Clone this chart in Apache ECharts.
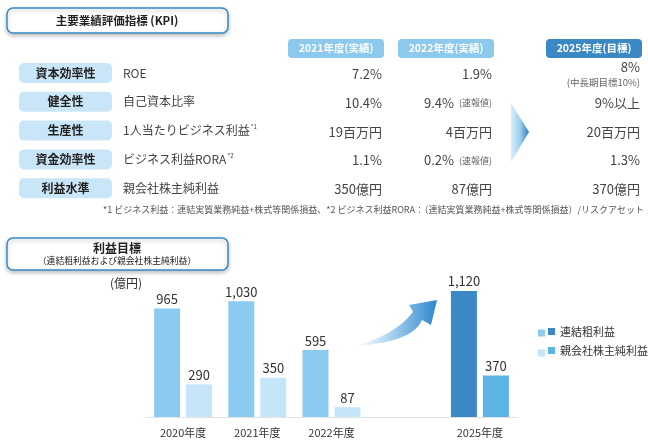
<!DOCTYPE html>
<html>
<head>
<meta charset="utf-8">
<script src="https://cdn.jsdelivr.net/npm/echarts@6/dist/echarts.min.js"></script>
<style>
  html, body { margin: 0; padding: 0; background: #fff; }
  #main { width: 648px; height: 445px; }
</style>
</head>
<body>
<div id="main"></div>
<script>
// bar chart data
var years = ['2020年度', '2021年度', '2022年度', '', '2025年度'];
var grossProfit = [965, 1030, 595, null, 1120];
var netIncome = [290, 350, 87, null, 370];
var seriesNames = ['連結粗利益', '親会社株主純利益'];
var unitLabel = '(億円)';

// KPI table data
var kpiColumns = ['2021年度(実績)', '2022年度(実績)', '2025年度(目標)'];
var kpiCategories = ['資本効率性', '健全性', '生産性', '資金効率性', '利益水準'];
var kpiMetrics = ['ROE', '自己資本比率', '1人当たりビジネス利益', 'ビジネス利益RORA', '親会社株主純利益'];
var kpiMetricNotes = ['', '', '*1', '*2', ''];
var kpi2021 = ['7.2%', '10.4%', '19百万円', '1.1%', '350億円'];
var kpi2022 = ['1.9%', '9.4%', '4百万円', '0.2%', '87億円'];
var kpi2022Notes = ['', '(速報値)', '', '(速報値)', ''];
var kpi2025 = ['8%', '9%以上', '20百万円', '1.3%', '370億円'];
var kpi2025Notes = ['(中長期目標10%)', '', '', '', ''];
var footnote = '*1 ビジネス利益：連結実質業務純益+株式等関係損益、*2 ビジネス利益RORA：（連結実質業務純益+株式等関係損益）/リスクアセット';

var FONT = '"Noto Sans CJK JP", "Noto Sans", sans-serif';
var colors = {
  gross: '#8ACBEF', grossTarget: '#3A89C4',
  net: '#C5E5F8', netTarget: '#5BB4E5',
  header: '#8DC9EC', headerTarget: '#3A89C4',
  rowLabel: '#C9E6F8', border: '#3A89C4'
};

function txt(x, y, text, st) {
  return {
    type: 'text', x: x, y: y, silent: true,
    style: Object.assign({
      text: text, fill: '#333', fontSize: 12, fontFamily: FONT,
      align: 'left', verticalAlign: 'middle'
    }, st || {})
  };
}
function box(x, y, w, h, r, st) {
  return {
    type: 'rect', silent: true,
    shape: { x: x, y: y, width: w, height: h, r: r },
    style: st
  };
}
function qbez(p0, c, p1, n) {
  var pts = [];
  for (var i = 0; i <= n; i++) {
    var t = i / n, a = (1 - t) * (1 - t), b = 2 * (1 - t) * t, d = t * t;
    pts.push([a * p0[0] + b * c[0] + d * p1[0], a * p0[1] + b * c[1] + d * p1[1]]);
  }
  return pts;
}

var g = [];

// title boxes
var titleStyle = { fill: '#fff', stroke: colors.border, lineWidth: 1.5,
  shadowBlur: 4, shadowColor: 'rgba(0,0,0,0.25)', shadowOffsetY: 2 };
g.push(box(7, 8, 221, 25, 6, titleStyle));
g.push(txt(117, 20.5, '主要業績評価指標 (KPI)', { fontWeight: 'bold', fontSize: 11.5, align: 'center', fill: '#222' }));
g.push(box(7, 238, 221, 32, 6, titleStyle));
g.push(txt(117, 248, '利益目標', { fontWeight: 'bold', fontSize: 12, align: 'center', fill: '#222' }));
g.push(txt(117, 261, '（連結粗利益および親会社株主純利益）', { fontSize: 8.8, align: 'center', fill: '#222' }));

// KPI headers
var colLeft = [288, 398, 546];
var colRight = [382, 492, 640];
kpiColumns.forEach(function (c, i) {
  g.push(box(colLeft[i], 39, 96, 19, 4, { fill: i === 2 ? colors.headerTarget : colors.header }));
  g.push(txt(colLeft[i] + 48, 48.5, c, { fill: '#fff', fontWeight: 'bold', fontSize: 10.5, align: 'center' }));
});

// KPI rows
kpiCategories.forEach(function (c, i) {
  var y = 73 + i * 28.8;
  g.push(box(19, y - 10, 93, 20, 5, { fill: colors.rowLabel }));
  g.push(txt(65.5, y, c, { fontWeight: 'bold', fontSize: 12, align: 'center', fill: '#222' }));
  g.push(txt(123, y, '{m|' + kpiMetrics[i] + '}' + (kpiMetricNotes[i] ? '{s|' + kpiMetricNotes[i] + '}' : ''), {
    rich: {
      m: { fontSize: 12, fill: '#444', fontFamily: FONT },
      s: { fontSize: 6, fill: '#444', fontFamily: FONT, padding: [0, 0, 7, 1] }
    }
  }));
  var vy = y + 1;
  g.push(txt(colRight[0], vy, kpi2021[i], { align: 'right', fontSize: 13, fill: '#444' }));
  if (kpi2022Notes[i]) {
    g.push(txt(454, vy, kpi2022[i], { align: 'right', fontSize: 13, fill: '#444' }));
    g.push(txt(colRight[1], vy, kpi2022Notes[i], { align: 'right', fontSize: 9, fill: '#666' }));
  } else {
    g.push(txt(colRight[1], vy, kpi2022[i], { align: 'right', fontSize: 13, fill: '#444' }));
  }
  if (kpi2025Notes[i]) {
    g.push(txt(colRight[2], vy - 7, kpi2025[i], { align: 'right', fontSize: 13, fill: '#444' }));
    g.push(txt(colRight[2], vy + 8, kpi2025Notes[i], { align: 'right', fontSize: 9.5, fill: '#666' }));
  } else {
    g.push(txt(colRight[2], vy, kpi2025[i], { align: 'right', fontSize: 13, fill: '#444' }));
  }
});

// chevron between actuals and target
g.push({
  type: 'polygon', silent: true,
  shape: { points: [[511, 103], [529, 132], [511, 162]] },
  style: { fill: new echarts.graphic.LinearGradient(0, 0, 1, 0, [
    { offset: 0, color: '#D8EEFA' }, { offset: 0.5, color: '#9FD0EF' }, { offset: 1, color: '#2E7EC0' }
  ]) }
});

g.push(txt(103, 210, footnote, { fontSize: 9, fill: '#555' }));
g.push(txt(110, 283, unitLabel, { fontSize: 12, fill: '#333' }));

// curved arrow toward 2025
var arrowPts = qbez([353, 346], [393, 337], [413, 312], 14)
  .concat([[409, 305], [437, 300], [431, 325], [422, 320]])
  .concat(qbez([422, 320], [412, 343], [353, 346], 14).slice(1));
g.push({
  type: 'polygon', silent: true,
  shape: { points: arrowPts },
  style: { fill: new echarts.graphic.LinearGradient(0, 0, 1, 0, [
    { offset: 0, color: 'rgba(200,225,245,0)' }, { offset: 0.45, color: '#A9D2F0' }, { offset: 1, color: '#2E86CC' }
  ]) }
});

// light half of the legend swatches
g.push(box(538, 329.5, 7, 7, 0, { fill: colors.gross }));
g.push(box(538, 349.5, 7, 7, 0, { fill: colors.net }));

function barData(vals, normal, target) {
  return vals.map(function (v, i) {
    return { value: v, itemStyle: { color: years[i] === '2025年度' ? target : normal } };
  });
}

var myChart = echarts.init(document.getElementById('main'));
var option = {
  animation: false,
  textStyle: { fontFamily: FONT },
  legend: {
    orient: 'vertical', left: 548, top: 326, padding: 0,
    itemWidth: 7, itemHeight: 7, itemGap: 8, icon: 'rect',
    selectedMode: false,
    textStyle: { fontSize: 11, color: '#333', fontFamily: FONT },
    data: seriesNames
  },
  grid: { left: 146, width: 371, top: 259.5, height: 157.5 },
  xAxis: {
    type: 'category', data: years,
    axisLine: { lineStyle: { color: '#E3E3E3' } },
    axisTick: { show: false },
    axisLabel: { interval: 0, fontSize: 11, color: '#333', margin: 10, fontFamily: FONT }
  },
  yAxis: { type: 'value', min: 0, max: 1400, show: false },
  series: [{
    name: seriesNames[0], type: 'bar', barWidth: 26, barGap: '23%',
    itemStyle: { color: colors.grossTarget },
    label: { show: true, position: 'top', distance: 3, fontSize: 13, color: '#333', fontFamily: FONT,
      formatter: function (p) { return p.value.toLocaleString('en-US'); } },
    data: barData(grossProfit, colors.gross, colors.grossTarget)
  }, {
    name: seriesNames[1], type: 'bar', barWidth: 26,
    itemStyle: { color: colors.netTarget },
    label: { show: true, position: 'top', distance: 3, fontSize: 13, color: '#333', fontFamily: FONT,
      formatter: function (p) { return p.value.toLocaleString('en-US'); } },
    data: barData(netIncome, colors.net, colors.netTarget)
  }],
  graphic: g
};
myChart.setOption(option);
</script>
</body>
</html>
